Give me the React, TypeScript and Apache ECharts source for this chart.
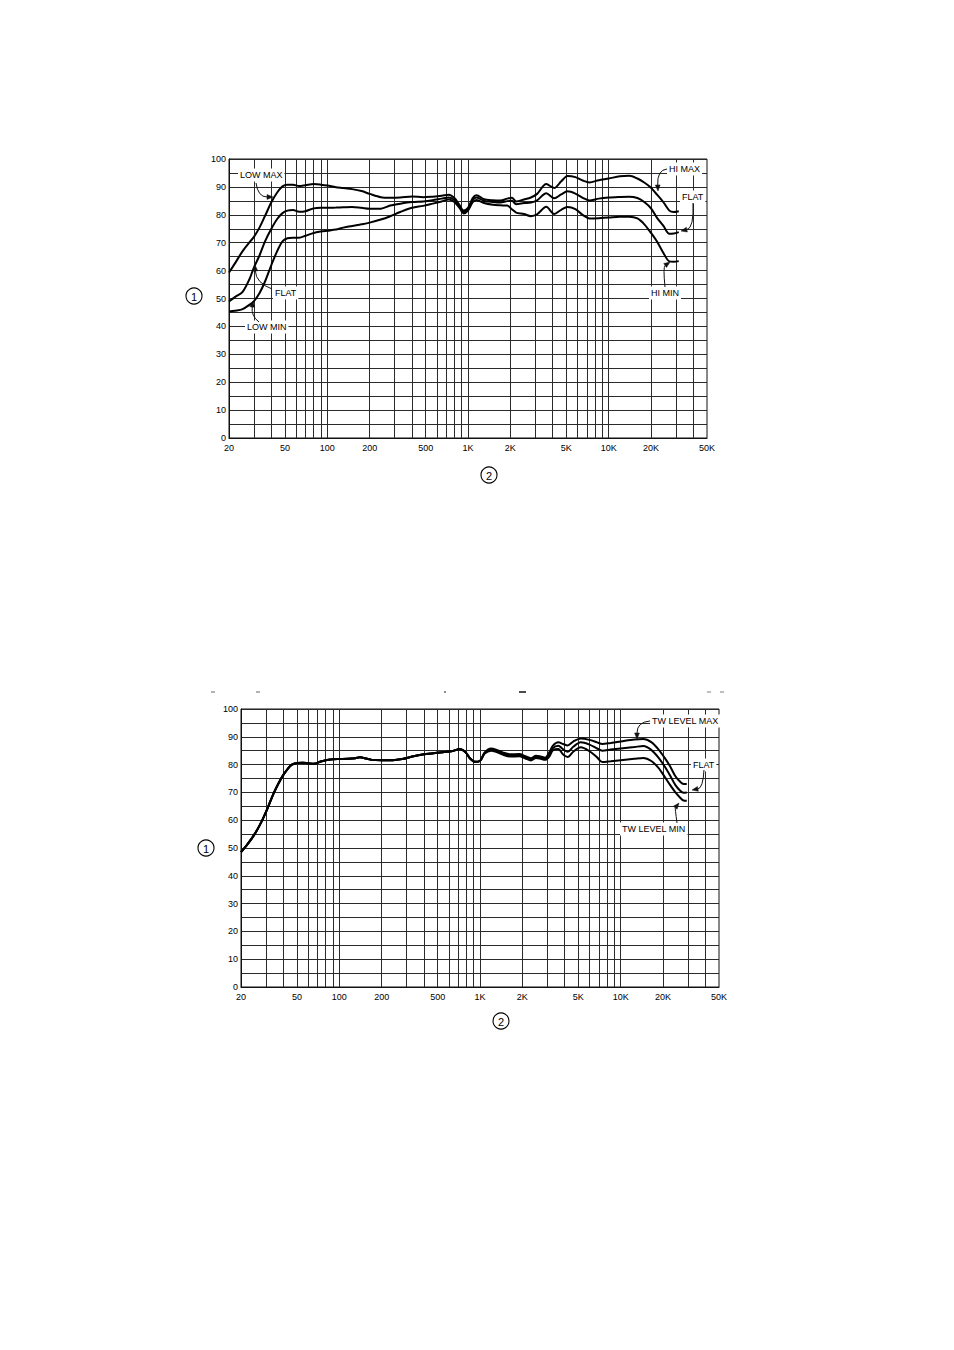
import React, { useEffect, useRef } from "react";
import * as echarts from "echarts";

// ---------- axis definitions ----------
const X_TICKS = [20, 50, 100, 200, 500, 1000, 2000, 5000, 10000, 20000, 50000];
const V_LINES = [30, 40, 50, 60, 70, 80, 90, 100, 200, 300, 400, 500, 600, 700, 800, 900,
  1000, 2000, 3000, 4000, 5000, 6000, 7000, 8000, 9000, 10000, 20000, 30000, 40000];

// ---------- chart 1 (LOW / HI tone controls) ----------
const F1 = [20, 22, 25, 28, 30, 33, 36, 40, 44, 48, 52, 57, 63, 70, 80, 90, 100, 115, 130, 150,
  175, 200, 240, 280, 330, 400, 480, 560, 650, 730, 800, 870, 930, 1000, 1080, 1150, 1300, 1500,
  1700, 1900, 2050, 2200, 2500, 2800, 3100, 3600, 4100, 4600, 5100, 5800, 6600, 7300, 8500,
  10000, 12000, 14000, 16000, 18000, 20000, 22000, 24500, 27000, 29000, 31500];
const MAX_1 = [59.3, 62.5, 67, 70.2, 72, 75.5, 79.5, 84.5, 88, 90.2, 90.8, 90.8, 90.3, 90.6, 91,
  90.8, 90.5, 89.9, 89.6, 89.2, 88.5, 87.5, 86.3, 86.1, 86.2, 86.6, 86.3, 86.5, 86.8, 87.2, 86,
  83.5, 81.5, 82.5, 86, 87, 85.6, 85.2, 85.1, 85.8, 86.1, 84.8, 85.5, 86.2, 87.5, 91, 89.6, 92,
  93.9, 93.5, 92.2, 91.6, 92.4, 93, 93.8, 94, 93, 91.5, 89.7, 87.3, 84.5, 81.5, 81, 81.3];
const FLAT_1 = [48.9, 50.5, 52.4, 57, 61, 65.5, 70.4, 75, 78.5, 80.6, 81.5, 81.7, 81.1, 81.3,
  82.3, 82.5, 82.5, 82.6, 82.7, 82.8, 82.5, 82.2, 82.2, 83.3, 84, 84.6, 84.8, 85.2, 85.8, 86.2,
  85.3, 83, 81, 82, 85.3, 86.2, 85, 84.6, 84.4, 84.9, 85, 83.8, 84.2, 84.4, 85.2, 87.7, 85.9,
  87.3, 88.4, 87.6, 86, 85.1, 85.8, 86.2, 86.4, 86.5, 86, 84.5, 82.3, 79, 76, 73.2, 73.3, 73.8];
const MIN_1 = [45.3, 45.6, 46.2, 47.8, 49, 52, 56, 62, 67, 70.5, 71.6, 71.8, 71.8, 72.5, 73.5,
  74, 74.3, 74.7, 75.4, 76, 76.6, 77.2, 78.3, 79.5, 81, 82.5, 83.2, 84, 84.8, 85.5, 84.6, 82.5,
  80.5, 81.5, 84.5, 85.3, 84.2, 83.6, 83.4, 83.3, 82, 80.8, 80.3, 79.5, 80.2, 82.9, 80.3, 81.8,
  82.8, 82, 79.8, 78.7, 78.8, 79, 79.3, 79.3, 78.7, 76.5, 73.5, 70.5, 66.3, 63.3, 63.2, 63.4];

// ---------- chart 2 (TW level) ----------
const F2 = [20, 22, 25, 28, 31, 34, 37, 40, 43, 46, 50, 55, 60, 66, 73, 80, 90, 100, 115, 130,
  140, 155, 170, 200, 240, 280, 330, 400, 480, 560, 640, 720, 790, 850, 920, 1000, 1080, 1200,
  1300, 1450, 1650, 1900, 2100, 2300, 2500, 2700, 2900, 3100, 3300, 3600, 3900, 4200, 4600,
  5200, 6000, 6800, 7400, 8500, 10000, 12500, 14500, 16500, 18500, 20500, 22500, 24500, 26500,
  28000, 29500];
const FLAT_2 = [48.5, 51, 55, 59.5, 64.5, 69.5, 73.3, 76.3, 78.5, 80, 80.6, 80.7, 80.5, 80.3, 81,
  81.6, 81.9, 82, 82.1, 82.3, 82.6, 82.2, 81.7, 81.6, 81.6, 82, 82.9, 83.7, 84.2, 84.5, 84.9,
  85.6, 84.4, 82.2, 81, 81.3, 84.2, 85.4, 85, 84, 83.3, 83.4, 82.6, 81.9, 82.8, 82.5, 82.1, 83.5,
  86, 86.8, 85.5, 84.6, 86.4, 88, 87.2, 85.8, 85, 85.4, 85.8, 86.3, 86.7, 85.3, 82.6, 79.4, 76,
  72.6, 70.6, 69.9, 70];
const MAX_2 = [48.5, 51, 55, 59.5, 64.5, 69.5, 73.3, 76.3, 78.5, 80, 80.6, 80.7, 80.5, 80.3, 81,
  81.6, 81.9, 82, 82.1, 82.3, 82.6, 82.2, 81.7, 81.6, 81.6, 82, 82.9, 83.7, 84.2, 84.5, 84.9,
  85.6, 84.4, 82.2, 81, 81.3, 84.4, 85.8, 85.4, 84.4, 83.7, 83.8, 83, 82.3, 83.2, 82.9, 82.5, 84.3,
  86.8, 88, 87.4, 86.9, 88.3, 89.4, 88.9, 88, 87.4, 87.8, 88.3, 89, 89.2, 88.1, 85.6, 82.5, 79.3,
  75.8, 73.8, 73, 73];
const MIN_2 = [48.5, 51, 55, 59.5, 64.5, 69.5, 73.3, 76.3, 78.5, 80, 80.6, 80.7, 80.5, 80.3, 81,
  81.6, 81.9, 82, 82.1, 82.3, 82.6, 82.2, 81.7, 81.6, 81.6, 82, 82.9, 83.7, 84.2, 84.5, 84.9,
  85.6, 84.4, 82.2, 81, 81.3, 84, 85, 84.6, 83.6, 82.9, 83, 82.2, 81.5, 82.4, 82.1, 81.7, 82.8,
  85.2, 85.6, 83.6, 82.7, 84.6, 86.2, 84.8, 82.6, 80.9, 81.2, 81.6, 82.1, 82.4, 81.3, 78.9, 75.7,
  72.6, 70, 68.1, 67.1, 67];

const FONT = '"Liberation Sans", Arial, sans-serif';

function pairs(f: number[], v: number[]) {
  return f.map((x, i) => [x, v[i]]);
}

function fmtHz(v: number) {
  return v >= 1000 ? Math.round(v / 1000) + "K" : String(Math.round(v));
}

function arrow(x1: number, y1: number, cx: number, cy: number, x2: number, y2: number) {
  const dx = x2 - cx, dy = y2 - cy;
  const len = Math.hypot(dx, dy) || 1;
  const ux = dx / len, uy = dy / len;
  const L = 6, W = 2.4;
  const bx = x2 - ux * L, by = y2 - uy * L;
  return [
    { type: "bezierCurve", z: 20, silent: true,
      shape: { x1, y1, cpx1: cx, cpy1: cy, x2: bx, y2: by },
      style: { stroke: "#111", lineWidth: 1, fill: null } },
    { type: "polygon", z: 20, silent: true,
      shape: { points: [[x2, y2], [bx - uy * W, by + ux * W], [bx + uy * W, by - ux * W]] },
      style: { fill: "#111", stroke: "#111", lineWidth: 0.5 } },
  ];
}

function label(text: string, x: number, y: number) {
  return {
    type: "text", x, y, z: 19, silent: true,
    style: { text, font: `9px ${FONT}`, fill: "#000", verticalAlign: "middle", align: "left",
      backgroundColor: "#fff", padding: [2, 2] },
  };
}

function circled(n: string, cx: number, cy: number) {
  return [
    { type: "circle", z: 20, silent: true, shape: { cx, cy, r: 8 },
      style: { fill: "#fff", stroke: "#000", lineWidth: 1.1 } },
    { type: "text", x: cx, y: cy + 0.5, z: 21, silent: true,
      style: { text: n, font: `11px ${FONT}`, fill: "#000", align: "center", verticalAlign: "middle" } },
  ];
}

export default function App() {
  const ref = useRef<HTMLDivElement>(null);
  useEffect(() => {
    if (!ref.current) return;
    const chart = echarts.init(ref.current, undefined, { renderer: "svg" });
    const grids = [
      { left: 229, top: 159, width: 478, height: 279 },
      { left: 241, top: 709, width: 478, height: 278 },
    ];
    const gridLine = { color: "#2a2a2a", width: 1, type: "solid" };
    const curve = (name: string, idx: number, data: number[][]) => ({
      name, type: "line", xAxisIndex: idx, yAxisIndex: idx, data, smooth: 0.3,
      symbol: "none", showSymbol: false, z: 5,
      lineStyle: { color: "#000", width: 2 },
    });
    const scanMarks = [[211, 215, "#999"], [256, 260, "#999"], [444, 446, "#666"], [519, 526, "#111"],
      [707, 711, "#aaa"], [720, 724, "#aaa"]].map(([a, b, c]) => ({
      type: "line", silent: true, shape: { x1: a, y1: 692, x2: b, y2: 692 },
      style: { stroke: c, lineWidth: 1.5 },
    }));
    const option: any = {
      animation: false,
      backgroundColor: "#fff",
      grid: grids.map((g) => ({ ...g, show: true, borderColor: "#111", borderWidth: 1, backgroundColor: "transparent" })),
      xAxis: grids.map((_, i) => ({
        type: "log", logBase: 10, gridIndex: i, min: 20, max: 50000,
        axisLine: { show: true, lineStyle: { color: "#111", width: 1 } },
        axisTick: { show: false },
        splitLine: { show: false },
        axisLabel: {
          customValues: X_TICKS, formatter: (v: number) => fmtHz(v),
          fontSize: 9, color: "#000", fontFamily: FONT, margin: 5,
          showMinLabel: true, showMaxLabel: true,
        },
      })),
      yAxis: grids.map((_, i) => ({
        type: "value", gridIndex: i, min: 0, max: 100, interval: 5,
        axisLine: { show: true, lineStyle: { color: "#111" } },
        axisTick: { show: false },
        splitLine: { show: true, lineStyle: gridLine },
        axisLabel: {
          formatter: (v: number) => (v % 10 === 0 ? String(v) : ""),
          fontSize: 9, color: "#000", fontFamily: FONT, margin: 3,
        },
      })),
      series: [
        ...grids.map((_, i) => ({
          type: "line", xAxisIndex: i, yAxisIndex: i, data: [], z: 1, silent: true,
          markLine: {
            silent: true, symbol: ["none", "none"], label: { show: false },
            lineStyle: gridLine, animation: false,
            data: V_LINES.map((v) => ({ xAxis: v })),
          },
        })),
        curve("LOW/HI MAX", 0, pairs(F1, MAX_1)),
        curve("FLAT", 0, pairs(F1, FLAT_1)),
        curve("LOW/HI MIN", 0, pairs(F1, MIN_1)),
        curve("TW LEVEL MAX", 1, pairs(F2, MAX_2)),
        curve("FLAT", 1, pairs(F2, FLAT_2)),
        curve("TW LEVEL MIN", 1, pairs(F2, MIN_2)),
      ],
      graphic: [
        // chart 1 annotations
        label("LOW MAX", 238, 175), ...arrow(256, 183, 258, 197, 273, 197),
        label("FLAT", 273, 293), ...arrow(272, 289, 256, 283, 255, 265),
        label("LOW MIN", 245, 327), ...arrow(259, 322, 251, 316, 253, 301),
        label("HI MAX", 667, 169), ...arrow(667, 169, 657, 170, 658, 191),
        label("FLAT", 680, 197), ...arrow(693, 203, 694, 228, 681, 231),
        label("HI MIN", 649, 293), ...arrow(665, 287, 663, 267, 670, 262),
        ...circled("1", 194, 296), ...circled("2", 489, 475),
        // chart 2 annotations
        label("TW LEVEL MAX", 650, 721), ...arrow(650, 721, 637, 722, 637, 739),
        label("FLAT", 691, 765), ...arrow(704, 770, 703, 788, 692, 790),
        label("TW LEVEL MIN", 620, 829), ...arrow(677, 823, 675, 808, 679, 803),
        ...circled("1", 206, 848), ...circled("2", 501, 1021),
        ...scanMarks,
      ],
    };
    chart.setOption(option);
    return () => chart.dispose();
  }, []);
  return (
    <div
      ref={ref}
      style={{ position: "fixed", left: 0, top: 0, width: 954, height: 1350, background: "#fff" }}
    />
  );
}
